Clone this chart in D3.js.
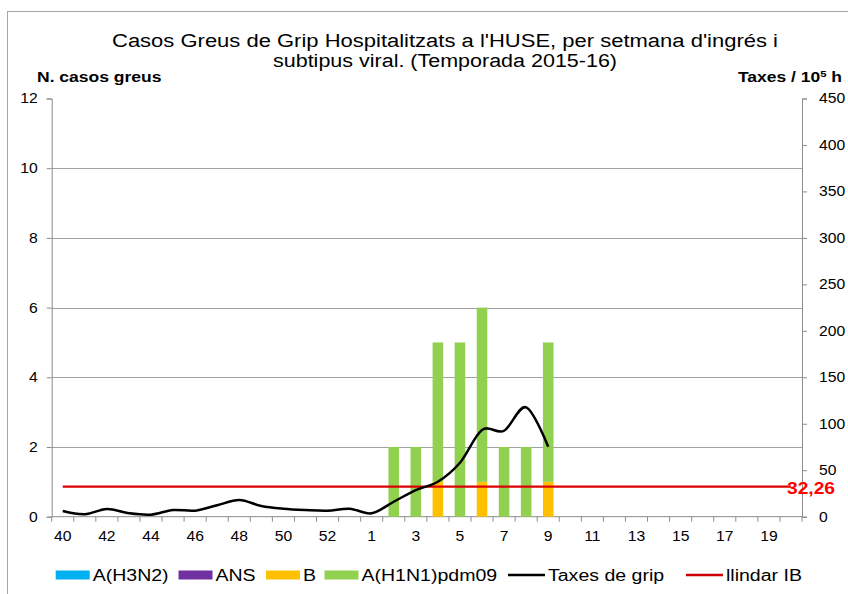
<!DOCTYPE html>
<html><head><meta charset="utf-8">
<script src="https://cdn.jsdelivr.net/npm/d3@7"></script>
<style>body{margin:0;background:#fff}svg{display:block;font-family:"Liberation Sans",Arial,sans-serif}</style>
</head><body><svg id="c" width="848" height="594"></svg>
<script>
const weeks = ["40","41","42","43","44","45","46","47","48","49","50","51","52","53","1","2","3","4","5","6","7","8","9","10","11","12","13","14","15","16","17","18","19","20"];
const h3n2  = [0,0,0,0,0,0,0,0,0,0,0,0,0,0,0,0,0,0,0,0,0,0,0,0,0,0,0,0,0,0,0,0,0,0];
const ans   = [0,0,0,0,0,0,0,0,0,0,0,0,0,0,0,0,0,0,0,0,0,0,0,0,0,0,0,0,0,0,0,0,0,0];
const fluB  = [0,0,0,0,0,0,0,0,0,0,0,0,0,0,0,0,0,1,0,1,0,0,1,0,0,0,0,0,0,0,0,0,0,0];
const h1n1  = [0,0,0,0,0,0,0,0,0,0,0,0,0,0,0,2,2,4,5,5,2,2,4,0,0,0,0,0,0,0,0,0,0,0];
const taxes = [6.1,2.6,8.3,3.7,2.2,7.2,6.5,12.3,18,11.5,8.6,7.2,6.5,8.6,3.7,16.1,28.7,37.6,58,93.3,92.5,117.7,75.3];
const threshold = 32.26;
const thresholdLabel = "32,26";
const leftTicks = [0,2,4,6,8,10,12];
const rightTicks = [0,50,100,150,200,250,300,350,400,450];
const seriesNames = ["A(H3N2)","ANS","B","A(H1N1)pdm09"];
const seriesColors = ["#00b0f0","#7030a0","#ffc000","#92d050"];
const titleLines = ["Casos  Greus de Grip Hospitalitzats a l'HUSE, per setmana  d'ingrés i","subtipus viral. (Temporada 2015-16)"];

const svg = d3.select("#c");
const L = 51.7, R = 802, T = 98.5, B = 516.7;
const x = d3.scaleBand().domain(weeks).range([L, R]).padding(0);
const yL = d3.scaleLinear().domain([0,12]).range([B, T]);
const yR = d3.scaleLinear().domain([0,450]).range([B, T]);
const axisCol = "#8c8c8c";
const K = 1.2; // horizontal text stretch of the original picture
function stretch(sel,k){ sel.each(function(){ const l=this.getComputedTextLength(); this.setAttribute("textLength",l*k); this.setAttribute("lengthAdjust","spacingAndGlyphs"); }); }

// outer border
svg.append("rect").attr("x",7.5).attr("y",11.5).attr("width",900).attr("height",700)
  .attr("fill","none").attr("stroke","#a6a6a6").attr("stroke-width",1);

// title
const titleW = [666,344];
titleLines.forEach((t,i)=>{
  svg.append("text").attr("x",445).attr("y",47+i*19.5).attr("text-anchor","middle")
    .attr("font-size",18).attr("fill","#000").attr("textLength",titleW[i]).attr("lengthAdjust","spacingAndGlyphs").text(t);
});
svg.append("text").attr("x",37).attr("y",82).attr("font-size",14).attr("font-weight","bold").text("N. casos greus").call(stretch,1.25);
const tx = svg.append("text").attr("transform","translate(842,82) scale(1.25,1)").attr("font-size",14).attr("font-weight","bold").attr("text-anchor","end");
tx.append("tspan").text("Taxes / 10");
tx.append("tspan").attr("font-size",9).attr("dy",-5).text("5");
tx.append("tspan").attr("dy",5).text(" h");

// gridlines
svg.append("g").selectAll("line").data(leftTicks.filter(d=>d>0&&d<12)).join("line")
  .attr("x1",L).attr("x2",R).attr("y1",d=>Math.round(yL(d))+0.5).attr("y2",d=>Math.round(yL(d))+0.5)
  .attr("stroke","#a0a0a0").attr("stroke-width",1);

// axes
const axL = d3.axisLeft(yL).tickValues(leftTicks).tickSize(5).tickPadding(9);
const gL = svg.append("g").attr("transform",`translate(${L},0)`).call(axL);
const axR = d3.axisRight(yR).tickValues(rightTicks).tickSize(5).tickPadding(12);
const gR = svg.append("g").attr("transform",`translate(${R},0)`).call(axR);
const axB = d3.axisBottom(x).tickSize(0).tickPadding(14).tickFormat((d,i)=> i%2===0 ? d : "");
const gB = svg.append("g").attr("transform",`translate(0,${B})`).call(axB);
[gL,gR,gB].forEach(g=>{
  g.selectAll("path").attr("stroke",axisCol);
  g.selectAll("line").attr("stroke",axisCol);
  g.selectAll("text").attr("font-family","'Liberation Sans',Arial,sans-serif").attr("font-size",14).attr("fill","#000").call(stretch,1.12);
});
gB.select(".domain").attr("d",`M${L},0H${R}`);
// category boundary ticks
svg.append("g").selectAll("line").data(weeks.concat(["end"])).join("line")
  .attr("x1",(d,i)=> i<weeks.length ? x(d) : R).attr("x2",(d,i)=> i<weeks.length ? x(d) : R)
  .attr("y1",B).attr("y2",B+5).attr("stroke",axisCol);

// stacked bars
const table = weeks.map((w,i)=>({week:w, "A(H3N2)":h3n2[i], "ANS":ans[i], "B":fluB[i], "A(H1N1)pdm09":h1n1[i]}));
const stack = d3.stack().keys(seriesNames)(table);
const bw = x.bandwidth()*0.48;
svg.append("g").selectAll("g").data(stack).join("g").attr("fill",(d,i)=>seriesColors[i])
  .selectAll("rect").data(d=>d).join("rect")
  .attr("x",d=>x(d.data.week)+(x.bandwidth()-bw)/2).attr("width",bw)
  .attr("y",d=>yL(d[1])).attr("height",d=>yL(d[0])-yL(d[1]));

// threshold
const cx = w => x(w)+x.bandwidth()/2;
svg.append("line").attr("x1",cx(weeks[0])).attr("x2",cx(weeks[weeks.length-1]))
  .attr("y1",yR(threshold)).attr("y2",yR(threshold)).attr("stroke","#dd0000").attr("stroke-width",2.2);

// taxes line
const line = d3.line().x((d,i)=>cx(weeks[i])).y(d=>yR(d)).curve(d3.curveCardinal.tension(0));
svg.append("path").datum(taxes).attr("d",line).attr("fill","none").attr("stroke","#000").attr("stroke-width",2.5);

svg.append("text").attr("x",787).attr("y",yR(threshold)+7).attr("font-size",16).attr("font-weight","bold")
  .attr("fill","#ff0000").text(thresholdLabel).call(stretch,1.2);

// legend
const legItems = seriesNames.map((n,i)=>({name:n,color:seriesColors[i],type:"rect"}))
  .concat([{name:"Taxes  de grip",color:"#000",type:"line"},{name:"llindar IB",color:"#d00000",type:"line"}]);
const legX = [55.7,178.5,266,324.5,508,686];
const ly = 575;
const lg = svg.append("g");
legItems.forEach((it,i)=>{
  const lx = legX[i];
  if(it.type==="rect") lg.append("rect").attr("x",lx).attr("y",ly-4.5).attr("width",34).attr("height",9).attr("fill",it.color);
  else lg.append("line").attr("x1",lx).attr("x2",lx+37).attr("y1",ly).attr("y2",ly).attr("stroke",it.color).attr("stroke-width",2.5);
  lg.append("text").attr("x",lx+(it.type==="rect"?37:40)).attr("y",ly+5.5).attr("font-size",16).text(it.name).call(stretch,1.22);
});
</script></body></html>
